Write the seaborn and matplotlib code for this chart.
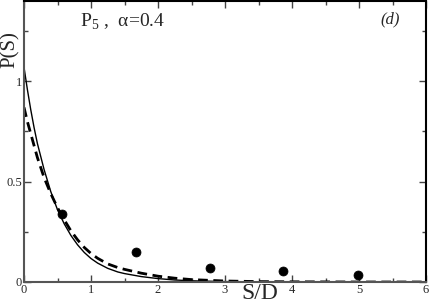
import matplotlib
matplotlib.use("Agg")
import matplotlib.pyplot as plt
import seaborn as sns
from matplotlib.ticker import MultipleLocator

sns.set_style("ticks")
plt.rcParams['font.family'] = ['Liberation Serif', 'DejaVu Serif']
plt.rcParams['mathtext.fontset'] = 'custom'
plt.rcParams['mathtext.rm'] = 'Liberation Serif'

# data
pts_x = [0.56, 1.67, 2.77, 3.87, 4.98]
pts_y = [0.34, 0.15, 0.07, 0.055, 0.034]

solid_x = [0.0, 0.05, 0.1, 0.15, 0.2, 0.3, 0.4, 0.5, 0.6, 0.7, 0.8, 0.9, 1.0, 1.1, 1.25, 1.4, 1.5, 1.75, 2.0, 2.25, 2.5, 3.0, 3.5, 4.0, 6.0]
solid_y = [1.07, 0.96, 0.86, 0.77, 0.69, 0.56, 0.45, 0.36, 0.29, 0.232, 0.185, 0.147, 0.117, 0.094, 0.068, 0.05, 0.042, 0.027, 0.017, 0.01, 0.006, 0.002, 0.001, 0.0, 0.0]

dash_x = [0.0, 0.05, 0.1, 0.15, 0.2, 0.3, 0.4, 0.5, 0.6, 0.7, 0.8, 0.9, 1.0, 1.1, 1.25, 1.4, 1.5, 1.75, 2.0, 2.25, 2.5, 3.0, 3.5, 4.0, 5.0, 6.0]
dash_y = [0.87, 0.80, 0.74, 0.68, 0.62, 0.52, 0.44, 0.37, 0.31, 0.255, 0.21, 0.172, 0.142, 0.118, 0.09, 0.072, 0.063, 0.044, 0.029, 0.019, 0.012, 0.005, 0.002, 0.001, 0.0, 0.0]

x_ticks = [0, 1, 2, 3, 4, 5, 6]
y_ticks = [0, 0.5, 1]
y_tick_labels = ["0", "0.5", "1"]

fig = plt.figure(figsize=(4.29, 3.03), dpi=100)
ax = fig.add_axes([24/429, 21/303, 402/429, 281/303])

sns.lineplot(x=solid_x, y=solid_y, ax=ax, color='black', lw=1.0, sort=False)
sns.lineplot(x=dash_x, y=dash_y, ax=ax, color='black', lw=2.0, sort=False,
             linestyle=(0, (3.5, 2)))
sns.scatterplot(x=pts_x, y=pts_y, ax=ax, color='black', s=42, edgecolor='black', zorder=5)

ax.set_xlim(0, 6)
ax.set_ylim(0, 1.4)
ax.set_xticks(x_ticks)
ax.set_xticklabels([str(t) for t in x_ticks])
ax.set_yticks(y_ticks)
ax.set_yticklabels(y_tick_labels)
ax.xaxis.set_minor_locator(MultipleLocator(0.5))
ax.yaxis.set_minor_locator(MultipleLocator(0.25))
ax.tick_params(which='both', direction='in', top=True, right=True, labelsize=9, pad=1.5)
ax.tick_params(which='major', length=5, width=1, color='#444444')
ax.tick_params(which='minor', length=3, width=1, color='#444444')

for side in ['left', 'bottom']:
    ax.spines[side].set_color('#555555')
    ax.spines[side].set_linewidth(1.5)
for side in ['right', 'top']:
    ax.spines[side].set_color('black')
    ax.spines[side].set_linewidth(1.5)

ax.set_xlabel('')
ax.set_ylabel('')
fig.text(0.606, 0.031, 'S/D', fontsize=17, ha='center', va='center')
fig.text(0.025, 0.838, 'P(S)', fontsize=15, ha='center', va='center', rotation=90)
fig.text(0.186, 0.927, 'P$_5$ ,  α=0.4', fontsize=14, ha='left', va='center')
fig.text(0.91, 0.937, '(d)', fontsize=12, ha='center', va='center', style='italic')

fig.savefig('out.png', dpi=100)
